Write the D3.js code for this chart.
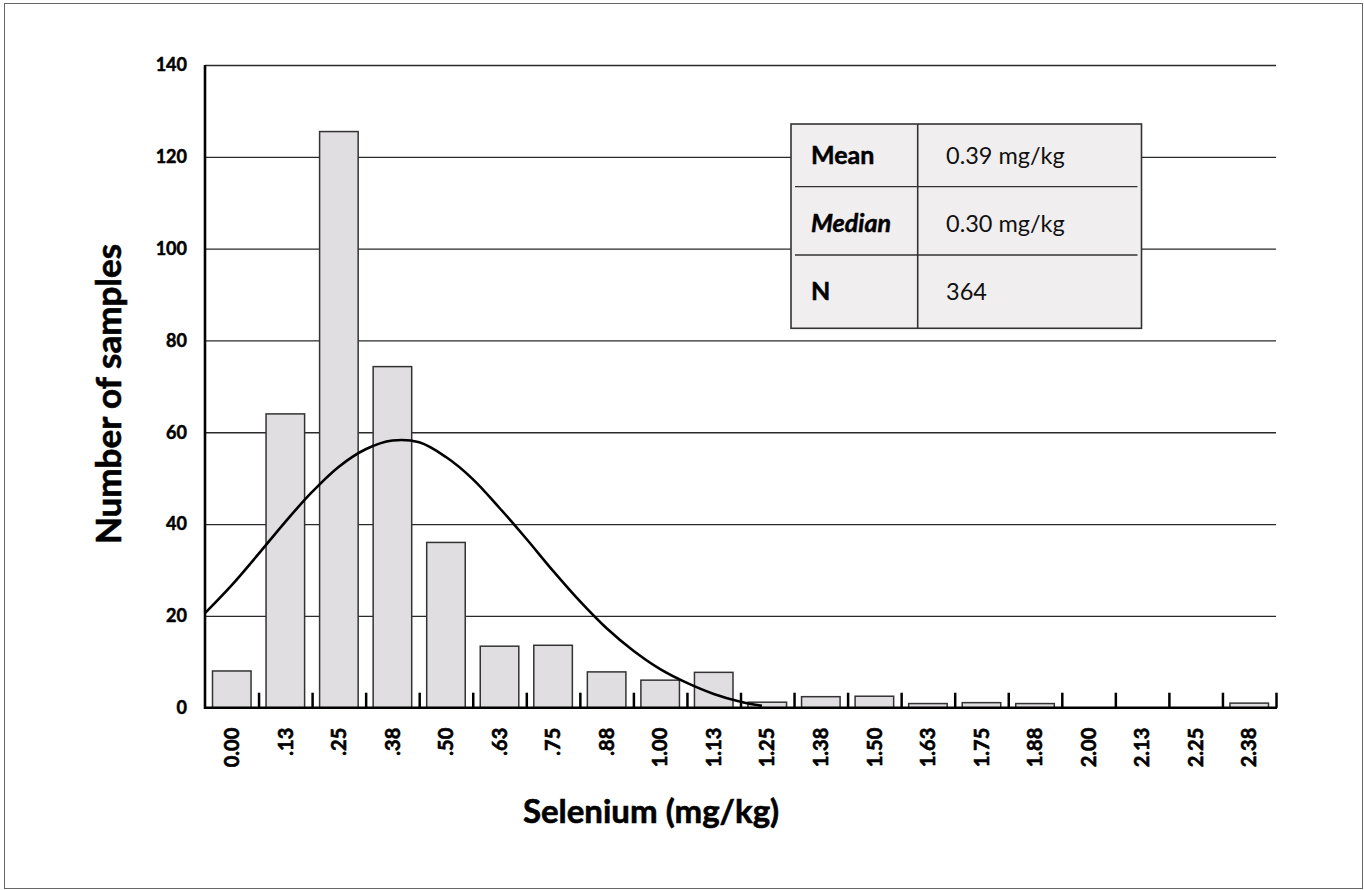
<!DOCTYPE html>
<html>
<head>
<meta charset="utf-8">
<script src="https://cdn.jsdelivr.net/npm/d3@7"></script>
<style>
  html, body { margin: 0; padding: 0; background: #fff; }
  svg { display: block; font-family: Lato, "DejaVu Sans", sans-serif; }
</style>
</head>
<body>
<svg id="chart" width="1364" height="890"></svg>
<script>
// ---- data ----
const categories = ["0.00", ".13", ".25", ".38", ".50", ".63", ".75", ".88", "1.00", "1.13",
                    "1.25", "1.38", "1.50", "1.63", "1.75", "1.88", "2.00", "2.13", "2.25", "2.38"];
const counts = [8, 64, 125.5, 74.3, 36, 13.4, 13.6, 7.8, 6, 7.7,
                1.2, 2.4, 2.5, 0.9, 1.1, 0.9, 0, 0, 0, 1];
const yTicks = [0, 20, 40, 60, 80, 100, 120, 140];
// fitted curve: position along the axis (in bins) and value
const curvePos = [0, 0.5, 1.0, 1.5, 2.0, 2.5, 3.0, 3.5, 4.0, 4.5, 5.0, 5.5, 6.0, 6.5, 7.0, 7.5, 8.0, 8.5, 9.0, 9.5, 10.0, 10.4];
const curveVal = [20.6, 26.7, 33.5, 40.5, 47.0, 52.5, 56.3, 58.2, 57.8, 54.6, 49.8, 43.5, 36.8, 29.8, 23.2, 17.3, 12.4, 8.4, 5.4, 3.0, 1.3, 0.4];
const statLabels = ["Mean", "Median", "N"];
const statValues = ["0.39 mg/kg", "0.30 mg/kg", "364"];
const xTitle = "Selenium (mg/kg)";
const yTitle = "Number of samples";

// ---- layout ----
const svg = d3.select("#chart");
const L = 205, R = 1276, T = 65, B = 707.7;
const pad = 0.28;

svg.append("rect").attr("x", 4.5).attr("y", 3.5).attr("width", 1358).attr("height", 885)
  .attr("fill", "#fff").attr("stroke", "#666").attr("stroke-width", 1);

const x = d3.scaleBand().domain(categories).range([L, R]).paddingInner(pad).paddingOuter(pad / 2);
const xLin = d3.scaleLinear().domain([0, categories.length]).range([L, R]);
const y = d3.scaleLinear().domain([0, 140]).range([B, T]);

// gridlines + y labels
const gy = svg.append("g").attr("transform", `translate(${L},0)`)
  .call(d3.axisLeft(y).tickValues(yTicks).tickSize(-(R - L)).tickPadding(18).tickFormat(d3.format("d")));
gy.select(".domain").remove();
gy.selectAll(".tick line").attr("stroke", "#2a2a2a").attr("stroke-width", 1.3);
gy.selectAll(".tick text").attr("font-size", 18).attr("font-weight", 700).attr("fill", "#000")
  .attr("stroke", "#000").attr("stroke-width", 0.5)
  .attr("font-family", "Lato, sans-serif");

// bars
svg.append("g").selectAll("rect").data(categories).join("rect")
  .attr("x", d => x(d))
  .attr("y", (d, i) => y(counts[i]))
  .attr("width", x.bandwidth())
  .attr("height", (d, i) => B - y(counts[i]))
  .attr("fill", "#e0dee0")
  .attr("stroke", "#333")
  .attr("stroke-width", 1.5);

// x tick marks at bin boundaries
const gt = svg.append("g").attr("transform", `translate(0,${B})`)
  .call(d3.axisBottom(xLin).tickValues(d3.range(1, categories.length + 1)).tickSize(-15).tickFormat(""));
gt.select(".domain").remove();
gt.selectAll(".tick line").attr("stroke", "#000").attr("stroke-width", 2.5);

// x labels
const gx = svg.append("g").attr("transform", `translate(0,${B})`)
  .call(d3.axisBottom(x).tickSize(0).tickPadding(0));
gx.select(".domain").remove();
gx.selectAll(".tick text")
  .attr("font-size", 20).attr("font-weight", 700).attr("fill", "#000")
  .attr("stroke", "#000").attr("stroke-width", 0.6)
  .attr("font-family", "Lato, sans-serif")
  .attr("text-anchor", "end")
  .attr("transform", "translate(0,20) rotate(-90)")
  .attr("x", 0).attr("y", 0).attr("dy", "0.36em");

// axis lines
svg.append("line").attr("x1", L).attr("x2", R + 1).attr("y1", B).attr("y2", B)
  .attr("stroke", "#000").attr("stroke-width", 2.6);
svg.append("line").attr("x1", L).attr("x2", L).attr("y1", T).attr("y2", B + 1.3)
  .attr("stroke", "#000").attr("stroke-width", 2.6);

// curve
const line = d3.line().x(d => xLin(d[0])).y(d => y(d[1])).curve(d3.curveCatmullRom);
svg.append("path").datum(curvePos.map((p, i) => [p, curveVal[i]]))
  .attr("d", line).attr("fill", "none").attr("stroke", "#000").attr("stroke-width", 2.6);

// stats table
const tb = svg.append("g");
const tx0 = 791, tx1 = 1141.5, ty0 = 124, ty1 = 328.3, tdiv = 917.7;
const rowsY = [ty0, 186.7, 255, ty1];
tb.append("rect").attr("x", tx0).attr("y", ty0).attr("width", tx1 - tx0).attr("height", ty1 - ty0)
  .attr("fill", "#f0eeef").attr("stroke", "#333").attr("stroke-width", 1.6);
tb.append("line").attr("x1", tdiv).attr("x2", tdiv).attr("y1", ty0).attr("y2", ty1)
  .attr("stroke", "#333").attr("stroke-width", 1.6);
[1, 2].forEach(k => {
  tb.append("line").attr("x1", tx0 + 4).attr("x2", tx1 - 4).attr("y1", rowsY[k]).attr("y2", rowsY[k])
    .attr("stroke", "#333").attr("stroke-width", 1.3);
});
const baselines = [164, 231.5, 300];
statLabels.forEach((s, i) => {
  tb.append("text").attr("x", 811).attr("y", baselines[i]).text(s)
    .attr("font-size", 25).attr("font-weight", 700)
    .attr("stroke", "#000").attr("stroke-width", 0.5)
    .attr("font-style", i === 1 ? "italic" : "normal").attr("fill", "#000");
  tb.append("text").attr("x", 946).attr("y", baselines[i]).text(statValues[i])
    .attr("font-size", 23.5).attr("font-weight", 400).attr("fill", "#111");
});

// axis titles
svg.append("text").attr("x", 651).attr("y", 823).attr("text-anchor", "middle")
  .attr("font-size", 33).attr("font-weight", 700).attr("fill", "#000")
  .attr("stroke", "#000").attr("stroke-width", 0.6).text(xTitle);
svg.append("text").attr("transform", "translate(121,394) rotate(-90)").attr("text-anchor", "middle")
  .attr("font-size", 35).attr("font-weight", 700).attr("fill", "#000")
  .attr("stroke", "#000").attr("stroke-width", 0.6).text(yTitle);
</script>
</body>
</html>
